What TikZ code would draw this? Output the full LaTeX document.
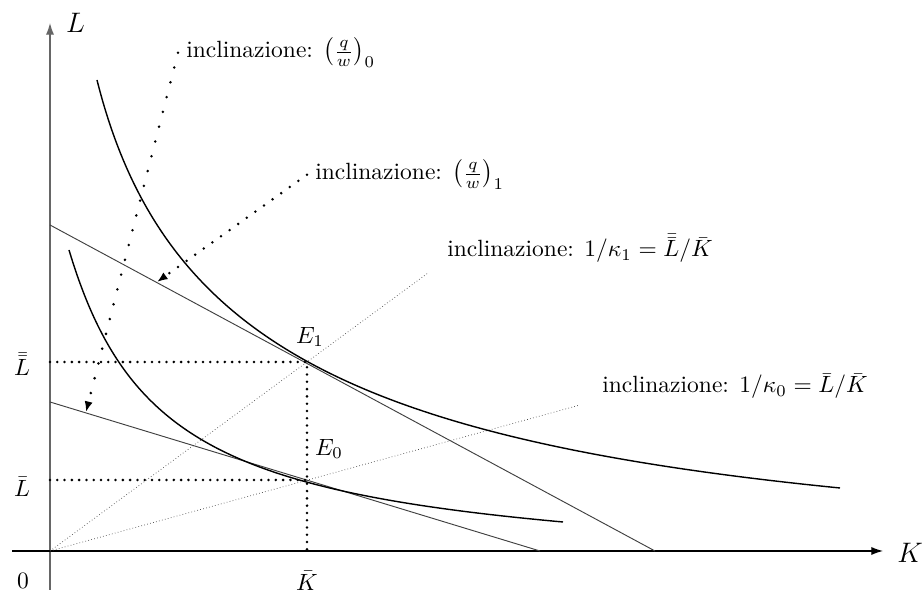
\documentclass[tikz,border=0pt]{standalone}
\usepackage{amsmath}
\usetikzlibrary{arrows.meta}

\tikzset{
  asse/.style={line width=0.5pt, -{Latex[length=5pt,width=3.5pt]}},
  isoquanta/.style={line width=0.6pt},
  isocosto/.style={line width=0.4pt, black!75},
  raggio/.style={densely dotted, line width=0.3pt, black!70},
  proiez/.style={line width=1.2pt, line cap=round, dash pattern=on 0pt off 3.1pt},
  freccia/.style={line width=1.2pt, line cap=round, -{Latex[length=4.5pt,width=3.5pt]}},
}

\begin{document}
\begin{tikzpicture}[x=1.4956cm, y=1.4956cm]
  \useasboundingbox (-0.5,-0.42) rectangle (8.74,5.51);

  % Assi
  \draw[asse, black!60] (0,-0.39) -- (0,5.28);
  \draw[asse] (-0.38,0) -- (8.33,0);
  \node (L) at (0.255,5.285) {\large $L$};
  \node (K) at (8.60,-0.02) {\large $K$};
  \node (O) at (-0.27,-0.30) {$0$};

  % Punti di equilibrio
  \coordinate (E1) at (2.57,1.89);
  \coordinate (E0) at (2.57,0.71);

  % Raggi dall'origine
  \draw[raggio] (0,0) -- (3.78,2.78) coordinate (r1);
  \draw[raggio] (0,0) -- (5.30,1.46) coordinate (r0);

  % Isocosti
  \draw[isocosto] (0,3.26) -- (6.05,0);
  \draw[isocosto] (0,1.49) -- (4.90,0);

  % Isoquanti
  \draw[isoquanta] (0.47,4.71) .. controls (1.115,2.142) and (2.972,1.122) .. (7.90,0.63);
  \draw[isoquanta] (0.19,3.01) .. controls (0.751,1.143) and (1.739,0.599) .. (5.13,0.29);

  % Proiezioni sugli assi
  \draw[proiez] (0,1.89) -- (E1) -- (2.57,0);
  \draw[proiez] (0,0.71) -- (E0);
  \node (Lbb) at (-0.28,1.87) {$\bar{\bar{L}}$};
  \node (Lb) at (-0.28,0.64) {$\bar{L}$};
  \node (Kb) at (2.57,-0.30) {$\bar{K}$};
  \node (e1) at (2.60,2.14) {$E_1$};
  \node (e0) at (2.79,1.02) {$E_0$};

  % Etichette delle inclinazioni
  \node[anchor=base west] (inc0) at (1.28,4.93) {inclinazione: $\left(\frac{q}{w}\right)_0$};
  \node[anchor=base west] (inc1) at (2.57,3.71) {inclinazione: $\left(\frac{q}{w}\right)_1$};
  \node[anchor=base west] (k1) at (3.89,2.94) {inclinazione: $1/\kappa_1=\bar{\bar{L}}/\bar{K}$};
  \node[anchor=base west] (k0) at (5.44,1.58) {inclinazione: $1/\kappa_0=\bar{L}/\bar{K}$};

  \coordinate (p0) at (0.36,1.39);
  \coordinate (p1) at (1.07,2.69);
  \draw[freccia, dash pattern=on 0pt off 6.5pt] (inc0.west) -- (p0);
  \draw[freccia, dash pattern=on 0pt off 4.5pt] (inc1.west) -- (p1);
\end{tikzpicture}
\end{document}
